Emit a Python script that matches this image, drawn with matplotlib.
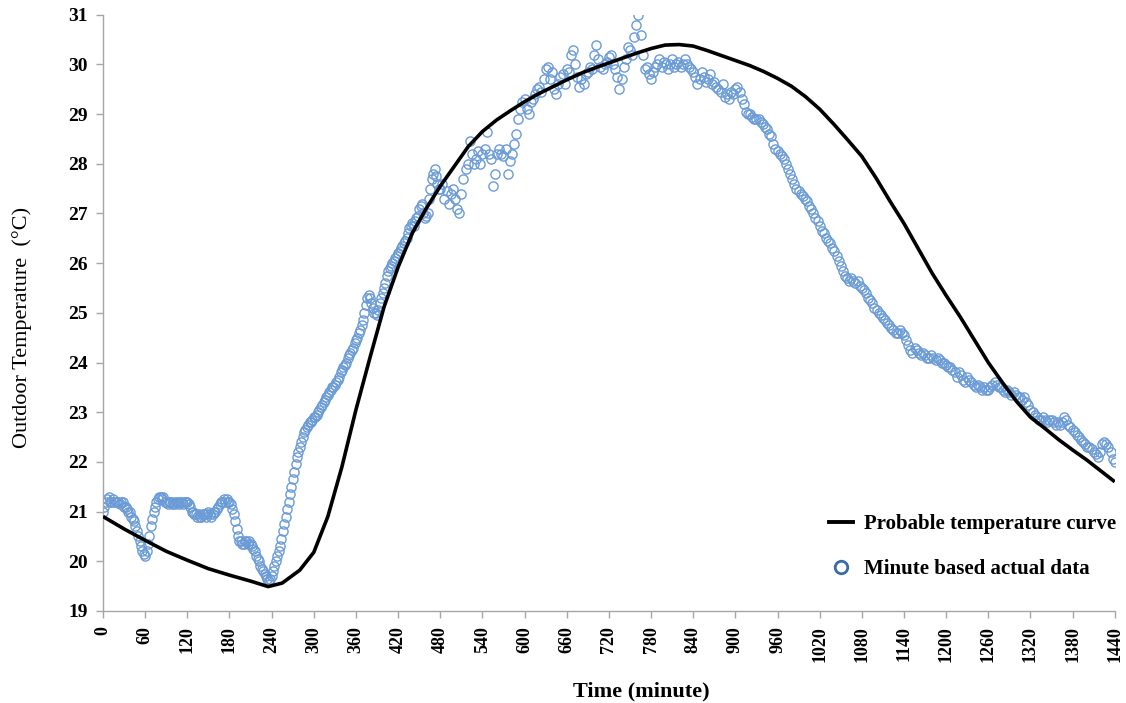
import numpy as np
import matplotlib
matplotlib.use("Agg")
import matplotlib.pyplot as plt
from matplotlib.lines import Line2D

plt.rcParams['font.family'] = ['Liberation Serif', 'DejaVu Serif']

# Probable temperature curve (minute, degC)
curve_t = [0, 30, 60, 90, 120, 150, 180, 210, 235, 255, 280, 300, 320, 340, 360,
           380, 400, 420, 440, 460, 480, 500, 520, 540, 560, 580, 600, 620, 640,
           660, 680, 700, 720, 740, 760, 780, 800, 820, 840, 860, 880, 900, 920,
           940, 960, 980, 1000, 1020, 1040, 1060, 1080, 1100, 1120, 1140, 1160,
           1180, 1200, 1220, 1240, 1260, 1280, 1300, 1320, 1340, 1360, 1380, 1400,
           1420, 1440]
curve_v = [20.90, 20.65, 20.42, 20.20, 20.02, 19.85, 19.72, 19.60, 19.49, 19.56,
           19.82, 20.18, 20.90, 21.90, 23.05, 24.10, 25.12, 25.92, 26.60, 27.10,
           27.55, 27.95, 28.35, 28.65, 28.88, 29.07, 29.25, 29.41, 29.55, 29.69,
           29.82, 29.93, 30.03, 30.13, 30.23, 30.32, 30.39, 30.40, 30.37, 30.28,
           30.18, 30.08, 29.98, 29.86, 29.72, 29.56, 29.35, 29.10, 28.80, 28.48,
           28.15, 27.72, 27.25, 26.80, 26.30, 25.80, 25.35, 24.92, 24.46, 24.00,
           23.60, 23.22, 22.90, 22.68, 22.45, 22.24, 22.04, 21.82, 21.60]

# Minute based actual data: morning part read every 2 minutes (0-478)
morning_t = np.arange(0, 480, 2)
morning_v = [
    21.0, 21.1, 21.2, 21.25, 21.3, 21.2, 21.2, 21.25, 21.2, 21.2,
    21.2, 21.2, 21.15, 21.2, 21.2, 21.1, 21.1, 21.05, 21.0, 21.0,
    20.9, 20.85, 20.8, 20.7, 20.6, 20.5, 20.4, 20.3, 20.2, 20.15,
    20.1, 20.2, 20.35, 20.5, 20.7, 20.85, 21.0, 21.1, 21.2, 21.25,
    21.3, 21.3, 21.25, 21.3, 21.2, 21.2, 21.15, 21.2, 21.2, 21.15,
    21.2, 21.15, 21.2, 21.2, 21.15, 21.2, 21.2, 21.15, 21.2, 21.2,
    21.2, 21.15, 21.1, 21.0, 21.0, 20.95, 20.95, 20.9, 20.95, 20.9,
    20.9, 20.95, 20.95, 20.9, 20.95, 21.0, 20.95, 20.9, 20.95, 21.0,
    21.0, 21.05, 21.1, 21.15, 21.2, 21.2, 21.25, 21.2, 21.25, 21.2,
    21.2, 21.15, 21.05, 20.95, 20.8, 20.65, 20.5, 20.4, 20.4, 20.35,
    20.35, 20.4, 20.4, 20.35, 20.4, 20.35, 20.3, 20.25, 20.2, 20.1,
    20.05, 20.0, 19.9, 19.85, 19.8, 19.75, 19.7, 19.65, 19.6, 19.65,
    19.7, 19.8, 19.9, 20.0, 20.1, 20.2, 20.3, 20.45, 20.6, 20.75,
    20.9, 21.05, 21.2, 21.35, 21.5, 21.65, 21.8, 21.95, 22.1, 22.2,
    22.3, 22.4, 22.5, 22.6, 22.65, 22.7, 22.75, 22.8, 22.8, 22.85,
    22.9, 22.9, 22.95, 23.0, 23.05, 23.1, 23.15, 23.2, 23.25, 23.3,
    23.35, 23.4, 23.45, 23.5, 23.5, 23.55, 23.6, 23.65, 23.7, 23.8,
    23.85, 23.9, 23.95, 24.0, 24.1, 24.15, 24.2, 24.25, 24.3, 24.4,
    24.45, 24.5, 24.6, 24.65, 24.75, 24.85, 25.0, 25.15, 25.3, 25.35,
    25.3, 25.2, 25.1, 25.0, 25.0, 24.95, 25.05, 25.2, 25.3, 25.4,
    25.5, 25.6, 25.75, 25.85, 25.9, 25.95, 26.0, 26.05, 26.1, 26.15,
    26.2, 26.25, 26.3, 26.35, 26.4, 26.45, 26.5, 26.6, 26.7, 26.75,
    26.8, 26.75, 26.85, 26.9, 26.95, 27.1, 27.15, 27.2, 27.0, 26.9,
    26.95, 27.0, 27.3, 27.5, 27.7, 27.8, 27.9, 27.75, 27.6, 27.5,
]

# Minute based actual data: rest of the day read every 3 minutes (480-1440)
later_t = np.arange(480, 1441, 3)
later_v = [
    27.5, 27.6, 27.3, 27.45, 27.2, 27.4, 27.5, 27.3, 27.1, 27.0,
    27.4, 27.7, 27.9, 28.0, 28.45, 28.2, 28.0, 28.1, 28.25, 28.0,
    28.2, 28.3, 28.65, 28.2, 28.1, 27.55, 27.8, 28.2, 28.3, 28.2,
    28.15, 28.3, 27.8, 28.05, 28.2, 28.4, 28.6, 28.9, 29.1, 29.25,
    29.3, 29.1, 29.0, 29.25, 29.3, 29.4, 29.5, 29.55, 29.45, 29.7,
    29.9, 29.95, 29.7, 29.85, 29.5, 29.4, 29.6, 29.75, 29.8, 29.6,
    29.9, 29.85, 30.2, 30.3, 30.0, 29.75, 29.55, 29.7, 29.6, 29.8,
    29.85, 29.95, 29.9, 30.2, 30.4, 30.1, 29.95, 29.9, 30.0, 30.05,
    30.15, 30.2, 30.0, 29.9, 29.75, 29.5, 29.7, 29.95, 30.1, 30.35,
    30.3, 30.2, 30.55, 30.8, 31.0, 30.6, 30.2, 29.9, 29.95, 29.8,
    29.7, 29.85, 29.95, 30.0, 30.1, 29.95, 30.05, 30.0, 29.9, 30.0,
    30.1, 29.95, 30.0, 30.05, 29.95, 30.0, 30.1, 30.0, 29.95, 29.9,
    29.85, 29.75, 29.6, 29.7, 29.85, 29.75, 29.65, 29.7, 29.8, 29.6,
    29.65, 29.55, 29.5, 29.45, 29.6, 29.35, 29.4, 29.3, 29.45, 29.4,
    29.5, 29.55, 29.45, 29.3, 29.2, 29.05, 29.0, 29.0, 28.95, 28.9,
    28.9, 28.9, 28.85, 28.8, 28.75, 28.7, 28.6, 28.55, 28.4, 28.3,
    28.25, 28.2, 28.15, 28.1, 28.0, 27.9, 27.8, 27.7, 27.6, 27.5,
    27.45, 27.4, 27.35, 27.3, 27.25, 27.15, 27.1, 27.0, 26.9, 26.85,
    26.75, 26.65, 26.6, 26.5, 26.45, 26.4, 26.3, 26.25, 26.15, 26.05,
    25.95, 25.85, 25.75, 25.7, 25.65, 25.7, 25.65, 25.6, 25.65, 25.55,
    25.5, 25.45, 25.4, 25.3, 25.25, 25.2, 25.1, 25.05, 25.0, 24.95,
    24.9, 24.85, 24.8, 24.75, 24.7, 24.65, 24.6, 24.6, 24.65, 24.6,
    24.55, 24.45, 24.35, 24.25, 24.2, 24.3, 24.25, 24.2, 24.15, 24.2,
    24.15, 24.1, 24.1, 24.15, 24.1, 24.05, 24.1, 24.05, 24.0, 24.0,
    23.95, 23.9, 23.9, 23.85, 23.8, 23.7, 23.8, 23.75, 23.65, 23.6,
    23.7, 23.65, 23.6, 23.55, 23.5, 23.55, 23.5, 23.45, 23.5, 23.45,
    23.45, 23.5, 23.55, 23.6, 23.55, 23.5, 23.5, 23.45, 23.4, 23.45,
    23.4, 23.35, 23.4, 23.35, 23.3, 23.3, 23.25, 23.3, 23.2, 23.15,
    23.05, 23.0, 22.95, 22.9, 22.85, 22.85, 22.9, 22.85, 22.8, 22.85,
    22.85, 22.8, 22.75, 22.8, 22.75, 22.8, 22.9, 22.85, 22.75, 22.7,
    22.65, 22.6, 22.55, 22.5, 22.45, 22.4, 22.35, 22.3, 22.3, 22.25,
    22.2, 22.15, 22.1, 22.2, 22.35, 22.4, 22.35, 22.3, 22.2, 22.05,
    22.0,
]

x_ticks = list(range(0, 1441, 60))
y_ticks = list(range(19, 32))

data_t = np.concatenate([morning_t, later_t])
data_v = np.array(morning_v + later_v)

fig = plt.figure(figsize=(11.26, 7.03), dpi=100)
ax = fig.add_axes([0.0915, 0.131, 0.8985, 0.848])

ax.plot(data_t, data_v, linestyle='none', marker='o', markersize=6.6,
        markerfacecolor='none', markeredgecolor='#6a9bd6', markeredgewidth=1.0,
        zorder=2)
ax.plot(curve_t, curve_v, color='black', linewidth=2.6, zorder=3,
        solid_capstyle='butt')

ax.set_xlim(0, 1440)
ax.set_ylim(19, 31)
ax.set_xticks(x_ticks)
ax.set_yticks(y_ticks)
ax.set_xticklabels([str(v) for v in x_ticks], rotation=90, fontsize=13,
                   fontweight='bold')
ax.set_yticklabels([str(v) for v in y_ticks], fontsize=14, fontweight='bold')

for side in ['top', 'right']:
    ax.spines[side].set_visible(False)
for side in ['left', 'bottom']:
    ax.spines[side].set_color('#a6a6a6')
    ax.spines[side].set_linewidth(1.0)
ax.tick_params(axis='both', direction='out', length=5, width=1.0,
               color='#a6a6a6', pad=6)

ax.set_xlabel('Time (minute)', fontsize=16, fontweight='bold')
ax.xaxis.set_label_coords(0.532, -0.118)
ax.set_ylabel('Outdoor Temperature  (°C)', fontsize=16)
ax.yaxis.set_label_coords(-0.070, 0.475)

handles = [
    Line2D([], [], color='black', linewidth=2.8),
    Line2D([], [], linestyle='none', marker='o', markersize=9,
           markerfacecolor='none', markeredgecolor='#3a6aa8',
           markeredgewidth=2.0),
]
labels = ['Probable temperature curve', 'Minute based actual data']
leg = ax.legend(handles, labels, loc='lower right', bbox_to_anchor=(1.02, 0.022),
                frameon=False, handlelength=1.15, handletextpad=0.55,
                labelspacing=1.2, prop={'family': 'Liberation Serif',
                                        'weight': 'bold', 'size': 15})

fig.savefig('out.png', dpi=100)
